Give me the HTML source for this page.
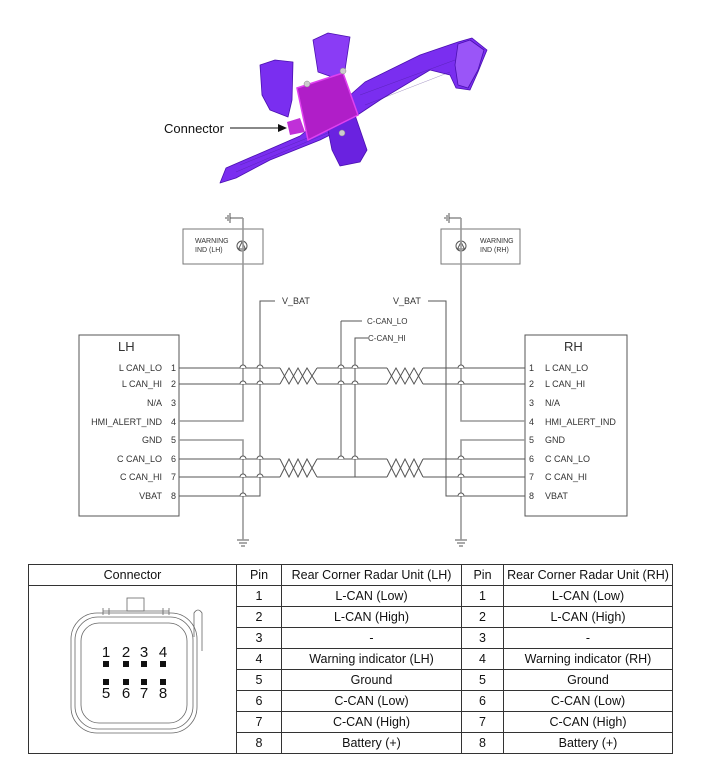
<!DOCTYPE html>
<html><head><meta charset="utf-8"><style>
body{margin:0;background:#fff;width:701px;height:773px;overflow:hidden;font-family:"Liberation Sans",sans-serif}
table{position:absolute;left:28px;top:564px;border-collapse:collapse;font-size:12.5px;color:#111}
td{border:1px solid #333;text-align:center;padding:0;height:20px;line-height:20px}
</style></head><body>
<svg width="701" height="773" style="position:absolute;left:0;top:0" font-family="Liberation Sans, sans-serif">
<g stroke="#4a10b0" stroke-width="0.8" stroke-linejoin="round">
<polygon fill="#7a2ef0" points="220,183 226,168 300,136 340,104 365,82 420,55 458,42 472,38 487,50 482,62 478,72 470,90 456,88 450,75 430,70 410,82 380,100 350,120 330,135 320,140 270,160 236,178"/>
<polygon fill="#8a3cf5" points="313,40 328,33 350,37 345,70 335,78 318,72"/>
<polygon fill="#7a2ef0" points="260,65 275,60 293,62 292,100 288,117 270,110 262,95"/>
<polygon fill="#6a22e0" points="327,125 355,115 367,150 360,162 340,166 332,150"/>
<polygon fill="#9a55f8" points="458,44 470,40 484,50 478,70 468,88 458,85 455,65"/>
</g>
<g stroke="#3a1880" stroke-width="0.4" opacity="0.6">
<line x1="236" y1="172" x2="330" y2="132"/><line x1="240" y1="165" x2="320" y2="133"/>
<line x1="360" y1="95" x2="455" y2="60"/><line x1="365" y1="105" x2="450" y2="72"/>
</g>
<polygon fill="#b01ec8" stroke="#e040f0" stroke-width="1.5" points="297,88 343,73 358,115 308,140"/>
<polygon fill="#c030d8" points="287,122 300,118 305,132 290,135"/>
<circle cx="307" cy="84" r="3" fill="#ccc" stroke="#888" stroke-width="0.5"/>
<circle cx="343" cy="71" r="3" fill="#ccc" stroke="#888" stroke-width="0.5"/>
<circle cx="342" cy="133" r="3" fill="#ccc" stroke="#888" stroke-width="0.5"/>
<text x="164" y="133" font-size="13" fill="#111">Connector</text>
<line x1="230" y1="128" x2="280" y2="128" stroke="#111" stroke-width="1"/>
<polygon points="287,128 278,124 278,132" fill="#111"/>

<g fill="none" stroke="#555" stroke-width="1">
<rect x="79" y="335" width="100" height="181"/>
<rect x="525" y="335" width="102" height="181"/>
<rect x="183" y="229" width="80" height="35" stroke="#777"/>
<rect x="441" y="229" width="79" height="35" stroke="#777"/>
<circle cx="242" cy="246" r="5"/><polygon points="242,242 238.5,249 245.5,249"/>
<circle cx="461" cy="246" r="5"/><polygon points="461,242 457.5,249 464.5,249"/>
<path d="M230,218 H243 M230,213 V223 M228,215 V221 M226,217 V219"/>
<path d="M449,218 H461 M449,213 V223 M447,215 V221 M445,217 V219"/>
<path d="M237,540 H249 M239,543 H247 M241,546 H245"/>
<path d="M455,540 H467 M457,543 H465 M459,546 H463"/>
</g>
<g fill="none" stroke="#999" stroke-width="1.6">
<path d="M243,218 V421 H179"/>
<path d="M179,440 H243 V540"/>
<path d="M461,218 V421 H525"/>
<path d="M525,440 H461 V540"/>
<path d="M341,321 V459"/>
</g>
<g fill="none" stroke="#555" stroke-width="1">
<path d="M275,301 H260 V496 H179"/>
<path d="M428,301 H446 V496 H525"/>
<path d="M362,321 H341"/>
<path d="M368,338 H355 V477"/>
<path d="M179,368 H280 M317,368 H387 M423,368 H525"/>
<path d="M179,384 H280 M317,384 H387 M423,384 H525"/>
<path d="M179,459 H280 M317,459 H387 M423,459 H525"/>
<path d="M179,477 H280 M317,477 H387 M423,477 H525"/>
<path d="M280,368 L289,384 L298,368 L307,384 L317,368 M280,384 L289,368 L298,384 L307,368 L317,384"/>
<path d="M387,368 L396,384 L405,368 L414,384 L423,368 M387,384 L396,368 L405,384 L414,368 L423,384"/>
<path d="M280,459 L289,477 L298,459 L307,477 L317,459 M280,477 L289,459 L298,477 L307,459 L317,477"/>
<path d="M387,459 L396,477 L405,459 L414,477 L423,459 M387,477 L396,459 L405,477 L414,459 L423,477"/>
</g>
<g fill="#fff" stroke="#555" stroke-width="1">
<path d="M240,368 a3,3 0 0 1 6,0 M257,368 a3,3 0 0 1 6,0 M240,384 a3,3 0 0 1 6,0 M257,384 a3,3 0 0 1 6,0"/>
<path d="M240,459 a3,3 0 0 1 6,0 M257,459 a3,3 0 0 1 6,0 M240,477 a3,3 0 0 1 6,0 M257,477 a3,3 0 0 1 6,0 M240,496 a3,3 0 0 1 6,0"/>
<path d="M338,368 a3,3 0 0 1 6,0 M352,368 a3,3 0 0 1 6,0 M338,384 a3,3 0 0 1 6,0 M352,384 a3,3 0 0 1 6,0 M338,459 a3,3 0 0 1 6,0 M352,459 a3,3 0 0 1 6,0"/>
<path d="M458,368 a3,3 0 0 1 6,0 M458,384 a3,3 0 0 1 6,0 M458,459 a3,3 0 0 1 6,0 M458,477 a3,3 0 0 1 6,0 M458,496 a3,3 0 0 1 6,0"/>
</g>
<g fill="#333" font-size="9">
<text x="118" y="351" font-size="13">LH</text>
<text x="564" y="351" font-size="13">RH</text>
<g text-anchor="end">
<text x="162" y="371">L CAN_LO</text><text x="176" y="371">1</text>
<text x="162" y="387">L CAN_HI</text><text x="176" y="387">2</text>
<text x="162" y="406">N/A</text><text x="176" y="406">3</text>
<text x="162" y="425">HMI_ALERT_IND</text><text x="176" y="425">4</text>
<text x="162" y="443">GND</text><text x="176" y="443">5</text>
<text x="162" y="462">C CAN_LO</text><text x="176" y="462">6</text>
<text x="162" y="480">C CAN_HI</text><text x="176" y="480">7</text>
<text x="162" y="499">VBAT</text><text x="176" y="499">8</text>
</g>
<text x="529" y="371">1</text><text x="545" y="371">L CAN_LO</text>
<text x="529" y="387">2</text><text x="545" y="387">L CAN_HI</text>
<text x="529" y="406">3</text><text x="545" y="406">N/A</text>
<text x="529" y="425">4</text><text x="545" y="425">HMI_ALERT_IND</text>
<text x="529" y="443">5</text><text x="545" y="443">GND</text>
<text x="529" y="462">6</text><text x="545" y="462">C CAN_LO</text>
<text x="529" y="480">7</text><text x="545" y="480">C CAN_HI</text>
<text x="529" y="499">8</text><text x="545" y="499">VBAT</text>
<text x="282" y="304">V_BAT</text>
<text x="393" y="304">V_BAT</text>
<text x="367" y="324" font-size="8">C-CAN_LO</text>
<text x="368" y="341" font-size="8">C-CAN_HI</text>
<text x="195" y="243" font-size="7">WARNING</text><text x="195" y="252" font-size="7">IND (LH)</text>
<text x="480" y="243" font-size="7">WARNING</text><text x="480" y="252" font-size="7">IND (RH)</text>
</g>
</svg>
<table>
<tr><td style="width:207px">Connector</td><td style="width:44px">Pin</td><td style="width:179px">Rear Corner Radar Unit (LH)</td><td style="width:41px">Pin</td><td style="width:168px">Rear Corner Radar Unit (RH)</td></tr>
<tr><td rowspan="8" style="position:relative">
<svg width="207" height="166" style="display:block">
<g fill="none" stroke="#666" stroke-width="0.8">
<rect x="98" y="11" width="17" height="13"/>
<path d="M74,24 H140 M74,21 V28 M80,21 V28 M134,21 V28 M140,21 V28"/>
<rect x="42" y="26" width="126" height="120" rx="26"/>
<rect x="46" y="30" width="118" height="112" rx="23"/>
<rect x="52" y="36" width="106" height="100" rx="18"/>
<path d="M165,50 V26 Q169,20 173,26 V64"/>
</g>
<g fill="#111" font-size="15" font-family="Liberation Sans, sans-serif" text-anchor="middle">
<text x="77" y="70">1</text><text x="97" y="70">2</text><text x="115" y="70">3</text><text x="134" y="70">4</text>
<text x="77" y="111">5</text><text x="97" y="111">6</text><text x="115" y="111">7</text><text x="134" y="111">8</text>
<rect x="74" y="74" width="6" height="6"/><rect x="94" y="74" width="6" height="6"/><rect x="112" y="74" width="6" height="6"/><rect x="131" y="74" width="6" height="6"/>
<rect x="74" y="92" width="6" height="6"/><rect x="94" y="92" width="6" height="6"/><rect x="112" y="92" width="6" height="6"/><rect x="131" y="92" width="6" height="6"/>
</g></svg></td><td>1</td><td>L-CAN (Low)</td><td>1</td><td>L-CAN (Low)</td></tr>
<tr><td>2</td><td>L-CAN (High)</td><td>2</td><td>L-CAN (High)</td></tr>
<tr><td>3</td><td>-</td><td>3</td><td>-</td></tr>
<tr><td>4</td><td>Warning indicator (LH)</td><td>4</td><td>Warning indicator (RH)</td></tr>
<tr><td>5</td><td>Ground</td><td>5</td><td>Ground</td></tr>
<tr><td>6</td><td>C-CAN (Low)</td><td>6</td><td>C-CAN (Low)</td></tr>
<tr><td>7</td><td>C-CAN (High)</td><td>7</td><td>C-CAN (High)</td></tr>
<tr><td>8</td><td>Battery (+)</td><td>8</td><td>Battery (+)</td></tr>
</table>
</body></html>
